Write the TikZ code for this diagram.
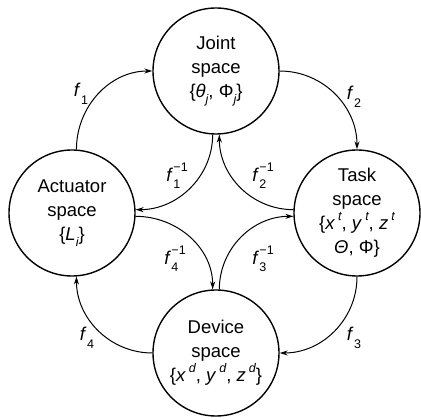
\documentclass[tikz,border=0pt]{standalone}
\usepackage{fontspec}
\setmainfont{Liberation Sans}
\usetikzlibrary{arrows.meta}
\newcommand\subsz{\fontsize{12.5}{12.5}\selectfont}
\newcommand\flab[1]{\textit{f}\kern0.5pt\raisebox{-0.4em}{\subsz #1}}
\newcommand\finv[1]{\textit{f}\kern0.5pt\rlap{\raisebox{-0.4em}{\subsz #1}}\raisebox{0.5em}{\subsz −1}}
\newcommand\ssub[1]{\raisebox{-0.3em}{\subsz\itshape #1}}
\newcommand\ssup[1]{\raisebox{0.5em}{\subsz\itshape #1}}
\begin{document}
\begin{tikzpicture}[x=1pt,y=1pt,
  space/.style={circle,draw,line width=1.4pt,minimum size=126pt,inner sep=0pt,
    align=center,font=\fontsize{18.5}{24}\selectfont},
  conn/.style={line width=1pt,-{Stealth[length=8pt,width=5pt]}},
  flabel/.style={font=\fontsize{18.5}{20}\selectfont,inner sep=0pt}]
\useasboundingbox (0,0) rectangle (421,420);
\node[space] (J) at (216,349) {Joint\\space\\\{\textit{θ}\ssub{j}, Φ\ssub{j}\}};
\node[space] (A) at (72,207) {Actuator\\space\\\{\textit{L}\ssub{i}\}};
\node[space] (T) at (357,207) {Task\\space\\\{\textit{x}\,\ssup{t}, \textit{y}\,\ssup{t}, \textit{z}\,\ssup{t}\\\textit{Θ}, Φ\}};
\node[space] (D) at (216,67) {Device\\space\\\{\textit{x}\,\ssup{d}, \textit{y}\,\ssup{d}, \textit{z}\,\ssup{d}\}};
% outer arcs
\draw[conn] (A.86) to[out=90,in=180] (J.180);
\draw[conn] (J.0) to[out=0,in=90] (T.90);
\draw[conn] (T.270) to[out=-90,in=0] (D.0);
\draw[conn] (D.180) to[out=180,in=-90] (A.274);
% inner arcs
\draw[conn] (J.267) to[out=-90,in=0] (A.3);
\draw[conn] (T.177) to[out=180,in=-90] (J.273);
\draw[conn] (A.-3) to[out=0,in=90] (D.93);
\draw[conn] (D.87) to[out=90,in=180] (T.183);
% labels
\node[flabel] (l1) at (81,326) {\flab{1}};
\node[flabel] (l2) at (354,323) {\flab{2}};
\node[flabel] (l3) at (354,82) {\flab{3}};
\node[flabel] (l4) at (87,82) {\flab{4}};
\node[flabel] (i1) at (177,244) {\finv{1}};
\node[flabel] (i2) at (263,244) {\finv{2}};
\node[flabel] (i3) at (263,161) {\finv{3}};
\node[flabel] (i4) at (175,161) {\finv{4}};
\end{tikzpicture}
\end{document}
